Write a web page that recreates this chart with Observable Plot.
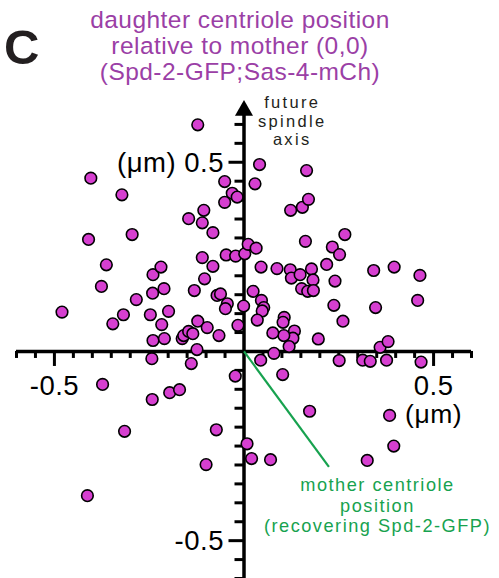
<!DOCTYPE html>
<html><head><meta charset="utf-8">
<script src="https://cdn.jsdelivr.net/npm/d3@7"></script>
<script src="https://cdn.jsdelivr.net/npm/@observablehq/plot@0.6"></script>
<style>
html,body{margin:0;padding:0;background:#fff;}
#wrap{position:relative;width:499px;height:578px;overflow:hidden;font-family:"Liberation Sans",Arial,sans-serif;}
#chart{position:absolute;left:0;top:0;}
#panel{position:absolute;left:4px;top:23px;font-size:49px;line-height:49px;font-weight:bold;color:#231f20;}
#title{position:absolute;left:0;top:7px;width:480px;text-align:center;color:#9b3fa6;font-size:24.5px;line-height:26px;letter-spacing:0.45px;}
</style></head>
<body>
<div id="wrap">
<div id="chart"></div>
<div id="panel">C</div>
<div id="title">daughter centriole position<br>relative to mother (0,0)<br>(Spd-2-GFP;Sas-4-mCh)</div>
</div>
<script>
// daughter centriole positions relative to mother (µm)
const daughterX = [-0.122,-0.404,-0.322,-0.051,0.029,-0.031,-0.018,-0.051,0.041,0.165,
0.123,0.154,0.170,-0.106,-0.146,-0.110,-0.082,-0.295,-0.410,-0.363,
-0.376,-0.480,-0.346,-0.318,-0.284,-0.240,-0.219,-0.241,-0.211,-0.247,
-0.199,-0.217,-0.240,-0.210,-0.163,-0.159,-0.146,-0.135,-0.122,-0.097,
-0.066,-0.124,-0.131,-0.104,-0.110,-0.082,-0.047,-0.022,0.002,0.011,
0.032,-0.071,-0.062,-0.044,-0.049,-0.001,-0.016,0.024,0.046,0.052,
0.048,0.035,0.045,0.087,0.122,0.125,0.148,0.178,0.182,0.218,
0.240,0.152,0.168,0.183,0.162,0.266,0.233,0.252,0.342,0.396,
0.464,0.458,0.347,0.237,0.261,0.106,0.103,0.133,0.129,0.105,
0.076,0.119,0.196,0.359,0.380,0.079,0.044,0.251,0.313,0.333,
0.376,0.467,0.102,0.173,0.384,0.395,0.008,0.020,0.070,0.325,
-0.243,-0.139,-0.023,-0.373,-0.242,-0.196,-0.170,-0.315,-0.073,-0.100,
-0.413];
const daughterY = [0.599,0.458,0.414,0.449,0.443,0.418,0.408,0.394,0.494,0.478,
0.373,0.381,0.402,0.373,0.351,0.340,0.314,0.309,0.296,0.229,
0.172,0.104,0.073,0.097,0.137,0.203,0.223,0.154,0.166,0.097,
0.106,0.071,0.029,0.034,0.034,0.042,0.053,0.047,0.080,0.063,
0.042,0.005,0.161,0.192,0.248,0.225,0.255,0.252,0.258,0.283,
0.273,0.148,0.152,0.126,0.113,0.120,0.069,0.159,0.135,0.116,
0.107,0.083,0.223,0.219,0.216,0.194,0.203,0.218,0.189,0.230,
0.186,0.166,0.159,0.161,0.291,0.309,0.276,0.256,0.214,0.223,
0.201,0.135,0.116,0.122,0.080,0.090,0.077,0.054,0.035,0.042,
0.049,0.013,0.033,0.011,0.026,-0.005,-0.023,-0.024,-0.023,-0.026,
-0.023,-0.028,-0.061,-0.158,-0.169,-0.250,-0.244,-0.283,-0.286,-0.288,
-0.019,-0.032,-0.065,-0.087,-0.127,-0.109,-0.101,-0.211,-0.207,-0.299,
-0.381];

// axis ticks (µm)
const xMinorTicks = [-0.6,-0.55,-0.45,-0.4,-0.35,-0.3,-0.25,-0.2,-0.15,-0.1,-0.05,
  0.05,0.1,0.15,0.2,0.25,0.3,0.35,0.4,0.45,0.55,0.6];
const yMinorTicks = [-0.6,-0.55,-0.45,-0.4,-0.35,-0.3,-0.25,-0.2,-0.15,-0.1,-0.05,
  0.05,0.1,0.15,0.2,0.25,0.3,0.35,0.4,0.45,0.55,0.6];
const majorTicks = [-0.5, 0.5];
const xTickLabels = ["-0.5", "0.5"];
const yTickLabels = ["-0.5", "(\u03bcm) 0.5"];
const unitLabel = "(\u03bcm)";

// annotations
const axisLabel = "future\nspindle\naxis";
const motherLabel = "mother centriole\nposition\n(recovering Spd-2-GFP)";

const points = daughterX.map((x, i) => ({x, y: daughterY[i]}));
const font = "Liberation Sans, Arial, sans-serif";
const magenta = "#d63fd0";
const green = "#17a24f";

const chart = Plot.plot({
  width: 499,
  height: 578,
  marginLeft: 16,
  marginRight: 28,
  marginTop: 105,
  marginBottom: 0,
  style: {fontFamily: font, background: "transparent"},
  x: {domain: [-0.6, 0.6], axis: null},
  y: {domain: [-0.6, 0.65], axis: null},
  marks: [
    // axes lines
    Plot.ruleY([0], {stroke: "black", strokeWidth: 3.5}),
    Plot.ruleX([0], {stroke: "black", strokeWidth: 3.5}),
    // x ticks (downward)
    Plot.ruleX(xMinorTicks, {x: d => d, y1: () => 0, y2: () => 0, insetBottom: -7, stroke: "black", strokeWidth: 3}),
    Plot.ruleX(majorTicks, {x: d => d, y1: () => 0, y2: () => 0, insetBottom: -15, stroke: "black", strokeWidth: 3}),
    // y ticks (leftward)
    Plot.ruleY(yMinorTicks, {y: d => d, x1: () => 0, x2: () => 0, insetLeft: -9, stroke: "black", strokeWidth: 3}),
    Plot.ruleY(majorTicks, {y: d => d, x1: () => 0, x2: () => 0, insetLeft: -15, stroke: "black", strokeWidth: 3}),
    // arrow head of spindle axis
    Plot.dot([0.637], {x: () => 0, y: d => d, symbol: "triangle", r: 6.7, fill: "black", stroke: null}),
    // tick labels
    Plot.text(majorTicks, {x: d => d, y: () => 0, text: (d, i) => xTickLabels[i], dy: 35, fontSize: 27.5, fill: "black", fontFamily: font}),
    Plot.text([0.5], {x: d => d, y: () => 0, text: () => unitLabel, dy: 63, fontSize: 26.5, fill: "black", fontFamily: font}),
    Plot.text(majorTicks, {x: () => 0, y: d => d, text: (d, i) => yTickLabels[i], dx: -20, dy: 1, textAnchor: "end", fontSize: 27.5, fill: "black", fontFamily: font}),
    // mother pointer
    Plot.link([{x1: 0, y1: 0, x2: 0.224, y2: -0.305}], {x1: "x1", y1: "y1", x2: "x2", y2: "y2", stroke: green, strokeWidth: 2.2}),
    // daughter centrioles
    Plot.dot(points, {x: "x", y: "y", r: 5.8, fill: magenta, stroke: "black", strokeWidth: 1.6}),
    // annotations
    Plot.text([axisLabel], {x: () => 0.127, y: () => 0.610, text: d => d, fontSize: 16.5, lineHeight: 1.13, fill: "#231f20", fontFamily: font}),
    Plot.text([motherLabel], {x: () => 0.352, y: () => -0.406, text: d => d, fontSize: 18.2, lineHeight: 1.13, fill: green, fontFamily: font})
  ]
});
const svg = d3.select(chart);
svg.selectAll("text").each(function () {
  const t = this.textContent;
  if (t.includes("spindle")) d3.select(this).attr("letter-spacing", "2.3px");
  else if (t.includes("centriole")) d3.select(this).attr("letter-spacing", "1.5px");
  else d3.select(this).attr("letter-spacing", "0.5px");
});
document.getElementById("chart").appendChild(chart);
</script>
</body></html>
